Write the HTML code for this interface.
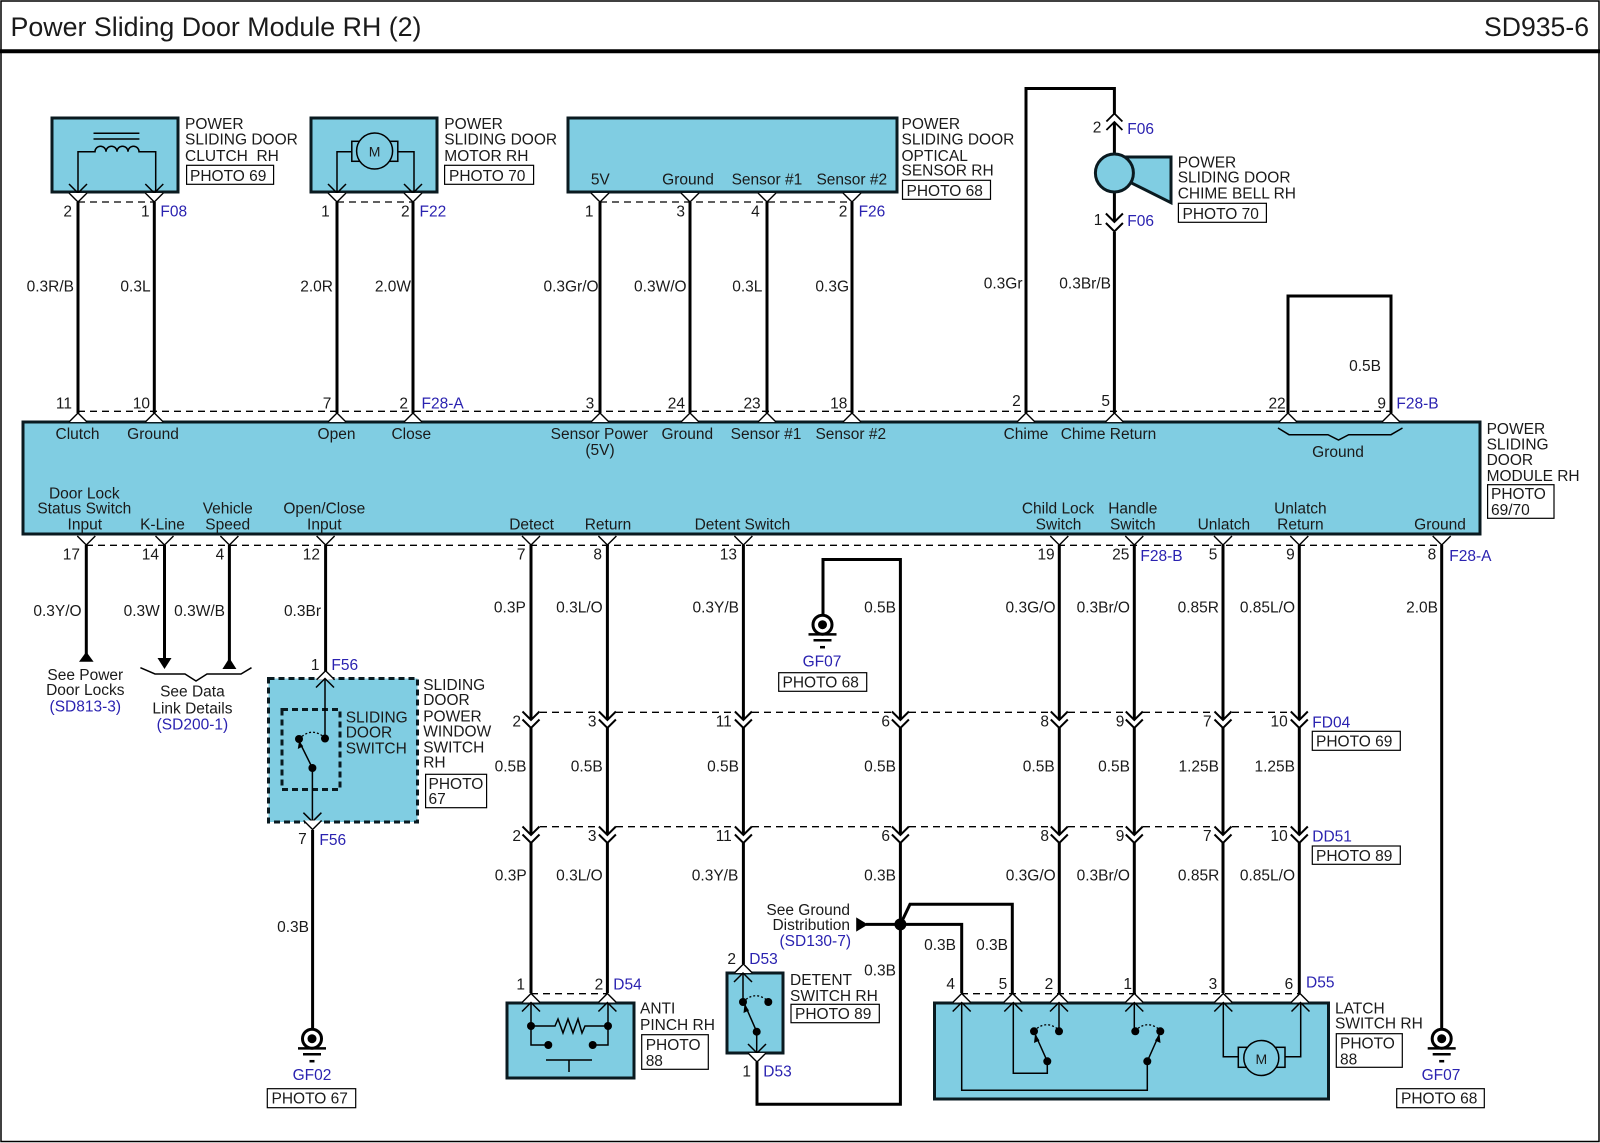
<!DOCTYPE html>
<html><head><meta charset="utf-8"><title>Power Sliding Door Module RH (2)</title>
<style>
html,body{margin:0;padding:0;background:#fff}
svg{display:block}
text{font-family:"Liberation Sans",sans-serif;font-size:15.5px;fill:#1a1a1a}
.b{fill:#2a22b0}
.w{fill:none;stroke:#000;stroke-width:3}
.t{fill:none;stroke:#000;stroke-width:1.5}
.d{fill:none;stroke:#000;stroke-width:1.3;stroke-dasharray:7 5}
.c{fill:#80cde2;stroke:#0a1a20;stroke-width:3}
.p{fill:#fff;stroke:#000;stroke-width:1.3}
.a{fill:none;stroke:#000;stroke-width:1.3;stroke-dasharray:2 2}
</style></head><body>
<svg xmlns="http://www.w3.org/2000/svg" width="1600" height="1143" viewBox="0 0 1600 1143">
<defs>
<path id="ov" d="M-9-9L0 0L9-9" fill="#fff" stroke="#000" stroke-width="1.4"/>
<path id="iv" d="M-9-9L0 0L9-9" fill="none" stroke="#000" stroke-width="1.5"/>
<path id="ou" d="M-9 9L0 0L9 9" fill="#fff" stroke="#000" stroke-width="1.4"/>
<path id="iu" d="M-9 9L0 0L9 9" fill="none" stroke="#000" stroke-width="1.5"/>
<path id="fv" d="M-8.500-8.500L0 0L8.500-8.500" fill="none" stroke="#000" stroke-width="2"/>
<path id="fu" d="M-8 8L0 0L8 8" fill="none" stroke="#000" stroke-width="1.800"/>
<g id="gnd"><circle r="9.500" fill="#fff" stroke="#000" stroke-width="3"/><circle r="4.500" fill="#000"/><path d="M-14 9.700H14M-9 15.500H9" stroke="#000" stroke-width="2.500"/><path d="M-2.500 22.500H2.500" stroke="#000" stroke-width="2.500"/></g>
<circle id="dot" r="4" fill="#000"/>
</defs>
<rect width="1600" height="1143" fill="#fff"/>
<rect x="1" y="1" width="1598" height="1140.500" fill="none" stroke="#000" stroke-width="1.500"/>
<path d="M0 51.300H1600" stroke="#000" stroke-width="4"/>
<text x="10.500" y="36" textLength="411" lengthAdjust="spacingAndGlyphs" style="font-size:26.800px">Power Sliding Door Module RH (2)</text>
<text x="1484" y="36" textLength="105" lengthAdjust="spacingAndGlyphs" style="font-size:26.600px">SD935-6</text>

<!-- component boxes -->
<rect class="c" x="52" y="118" width="126" height="74"/>
<rect class="c" x="311" y="118" width="126" height="74"/>
<rect class="c" x="568" y="118" width="329" height="74"/>
<rect class="c" x="23" y="422" width="1457" height="112"/>
<rect x="268.500" y="678.500" width="149" height="143.500" fill="#80cde2" stroke="#0a1a20" stroke-width="3" stroke-dasharray="6 4"/>
<rect x="282" y="709.500" width="58" height="80" fill="none" stroke="#0a1a20" stroke-width="3" stroke-dasharray="6 4"/>
<rect class="c" x="507" y="1003" width="127" height="75"/>
<rect class="c" x="727" y="973" width="56" height="80"/>
<rect class="c" x="934.500" y="1003" width="394" height="96"/>

<!-- thick wires -->
<path class="w" d="M78 202V413M154.300 202V413M337 202V413M413 202V413M600 202V413M690 202V413M767 202V413M852 202V413"/>
<path class="w" d="M1026 413V88.500H1114.400V113.500M1114.400 122V155M1114.400 190V221.500M1114.400 232V413M1288 413V296H1391V413"/>
<path class="w" d="M86.300 545V655M164.500 545V660M229.400 545V662M325.600 545V671"/>
<path class="w" d="M531 545V720M531 728V835M531 843V993M607.400 545V720M607.400 728V835M607.400 843V993M743.400 545V720M743.400 728V835M743.400 843V964"/>
<path class="w" d="M900.400 720V559.500H823V616M900.400 728V835M900.400 843V1104.300H757V1062"/>
<path class="w" d="M1059.300 545V720M1059.300 728V835M1059.300 843V993M1134.300 545V720M1134.300 728V835M1134.300 843V993M1223 545V720M1223 728V835M1223 843V993M1299.300 545V720M1299.300 728V835M1299.300 843V993M1441.700 545V1029"/>
<path class="w" d="M312.600 830V1029"/>
<path class="w" d="M866 924.400H961.700V993M900.400 924.400L910 904.300H1012.300V993"/>
<path d="M856.700 918.300V930.700L867 924.500Z" fill="#000" stroke="#000"/>
<circle cx="900.400" cy="924.400" r="6" fill="#000"/>
<path d="M86.300 651.700L79 661.700H93.600Z M157.500 658H171.500L164.500 669Z M229.400 658L222.400 669H236.400Z" fill="#000"/>
<path class="t" d="M140.400 667.700L155 674H185L196 681L207 674H241L251.500 667.700"/>

<!-- dashed connector lines -->
<path class="d" d="M78 202H154M337 202H413M600 202H852M78 411.300H1391M86 545.300H1441"/>
<path class="d" d="M540 712.300H598M616 712.300H734M752 712.300H891M909 712.300H1050M1068 712.300H1125M1143 712.300H1214M1232 712.300H1290"/>
<path class="d" d="M540 826.700H598M616 826.700H734M752 826.700H891M909 826.700H1050M1068 826.700H1125M1143 826.700H1214M1232 826.700H1290"/>
<path class="d" d="M531 993.700H607M961 993.700H1300"/>

<!-- top connectors -->
<use href="#iv" x="78" y="193"/><use href="#ov" x="78" y="202"/>
<use href="#iv" x="154.300" y="193"/><use href="#ov" x="154.300" y="202"/>
<use href="#iv" x="337" y="193"/><use href="#ov" x="337" y="202"/>
<use href="#iv" x="413" y="193"/><use href="#ov" x="413" y="202"/>
<use href="#ov" x="600" y="202"/><use href="#ov" x="690" y="202"/><use href="#ov" x="767" y="202"/><use href="#ov" x="852" y="202"/>
<use href="#ou" x="78" y="413"/><use href="#ou" x="154.300" y="413"/><use href="#ou" x="337" y="413"/><use href="#ou" x="413" y="413"/><use href="#ou" x="600" y="413"/><use href="#ou" x="690" y="413"/><use href="#ou" x="767" y="413"/><use href="#ou" x="852" y="413"/><use href="#ou" x="1026" y="413"/><use href="#ou" x="1114.400" y="413"/><use href="#ou" x="1288" y="413"/><use href="#ou" x="1391" y="413"/>
<!-- chime -->
<use href="#fu" x="1114.400" y="113.500"/><use href="#fu" x="1114.400" y="122"/>
<use href="#fv" x="1114.400" y="222"/><use href="#fv" x="1114.400" y="231.500"/>
<path class="c" d="M1125.600 157H1171V202.700L1131 182.700Z"/>
<circle class="c" cx="1114.400" cy="173" r="19"/>
<!-- bottom module connectors -->
<use href="#ov" x="86.300" y="545"/><use href="#ov" x="164.500" y="545"/><use href="#ov" x="229.400" y="545"/><use href="#ov" x="325.600" y="545"/><use href="#ov" x="531" y="545"/><use href="#ov" x="607.400" y="545"/><use href="#ov" x="743.400" y="545"/><use href="#ov" x="1059.300" y="545"/><use href="#ov" x="1134.300" y="545"/><use href="#ov" x="1223" y="545"/><use href="#ov" x="1299.300" y="545"/><use href="#ov" x="1441.700" y="545"/>
<!-- inline connectors -->
<use href="#fv" x="531" y="720"/><use href="#fv" x="531" y="728"/><use href="#fv" x="607.400" y="720"/><use href="#fv" x="607.400" y="728"/><use href="#fv" x="743.400" y="720"/><use href="#fv" x="743.400" y="728"/><use href="#fv" x="900.400" y="720"/><use href="#fv" x="900.400" y="728"/><use href="#fv" x="1059.300" y="720"/><use href="#fv" x="1059.300" y="728"/><use href="#fv" x="1134.300" y="720"/><use href="#fv" x="1134.300" y="728"/><use href="#fv" x="1223" y="720"/><use href="#fv" x="1223" y="728"/><use href="#fv" x="1299.300" y="720"/><use href="#fv" x="1299.300" y="728"/>
<use href="#fv" x="531" y="835"/><use href="#fv" x="531" y="843"/><use href="#fv" x="607.400" y="835"/><use href="#fv" x="607.400" y="843"/><use href="#fv" x="743.400" y="835"/><use href="#fv" x="743.400" y="843"/><use href="#fv" x="900.400" y="835"/><use href="#fv" x="900.400" y="843"/><use href="#fv" x="1059.300" y="835"/><use href="#fv" x="1059.300" y="843"/><use href="#fv" x="1134.300" y="835"/><use href="#fv" x="1134.300" y="843"/><use href="#fv" x="1223" y="835"/><use href="#fv" x="1223" y="843"/><use href="#fv" x="1299.300" y="835"/><use href="#fv" x="1299.300" y="843"/>

<!-- clutch symbol -->
<path class="t" d="M93.500 133.300H139.400M93.500 139H139.400"/>
<path class="t" d="M78 192V151.700H95a5.500 5.500 0 0 1 11 0a5.500 5.500 0 0 1 11 0a5.500 5.500 0 0 1 11 0a5.500 5.500 0 0 1 11 0H155.700V192"/>
<!-- motor symbol -->
<path class="t" d="M337 192V151.700H351.800M397.700 151.700H414V192"/>
<rect class="t" x="351.800" y="141.300" width="46" height="20"/>
<circle cx="374.600" cy="151" r="18" fill="#80cde2" stroke="#000" stroke-width="1.500"/>

<!-- window switch -->
<use href="#ou" x="325.600" y="670.700"/>
<use href="#iu" x="325" y="678.500"/>
<path class="t" d="M325 678.500V738M312.400 768V821.500"/>
<use href="#iv" x="312.400" y="821.700"/><use href="#ov" x="312.600" y="829.500"/>
<use href="#dot" x="299" y="739"/><use href="#dot" x="325" y="738.500"/><use href="#dot" x="312.400" y="768"/>
<path class="t" d="M312.400 768L299 741"/><path d="M299 741L297.800 749L303.200 746.300Z" fill="#000"/>
<path class="a" d="M299 739Q312 726 325 738"/>

<!-- anti pinch -->
<use href="#ou" x="531" y="993.500"/><use href="#ou" x="607.400" y="993.500"/>
<use href="#iu" x="531" y="1002.500"/><use href="#iu" x="607.400" y="1002.500"/>
<path class="t" d="M531 1003V1045H548M608 1003V1045H593"/>
<path class="t" d="M531 1026H555L558 1019L563 1033L568 1019L573 1033L578 1019L582 1033L585 1026H608"/>
<use href="#dot" x="531" y="1026"/><use href="#dot" x="608" y="1026"/><use href="#dot" x="548.300" y="1045"/><use href="#dot" x="592.700" y="1045"/>
<path class="t" d="M546 1060H592M569 1060V1072"/>

<!-- detent -->
<use href="#ou" x="743.400" y="964"/><use href="#iu" x="743" y="973"/>
<path class="t" d="M743 973V1002M756.700 1031.700V1053"/>
<use href="#dot" x="743" y="1002"/><use href="#dot" x="768.300" y="1002"/><use href="#dot" x="756.700" y="1031.700"/>
<path class="t" d="M756.700 1031.700L745 1005"/><path d="M744.500 1004L743.500 1013L749 1010.500Z" fill="#000"/>
<path class="a" d="M743 1002Q755 990 768 1001"/>
<use href="#iv" x="757" y="1053"/><use href="#ov" x="757" y="1062"/>

<!-- latch -->
<use href="#ou" x="961.700" y="993.500"/><use href="#ou" x="1012.600" y="993.500"/><use href="#ou" x="1059" y="993.500"/><use href="#ou" x="1134.300" y="993.500"/><use href="#ou" x="1223.300" y="993.500"/><use href="#ou" x="1300" y="993.500"/>
<use href="#iu" x="961.700" y="1002.500"/><use href="#iu" x="1013.300" y="1002.500"/><use href="#iu" x="1059" y="1002.500"/><use href="#iu" x="1134.300" y="1002.500"/><use href="#iu" x="1223.300" y="1002.500"/><use href="#iu" x="1300.500" y="1002.500"/>
<path class="t" d="M961.700 1003V1090.300H1147.300V1061.300M1013.300 1003V1073.300H1047.300V1061.300M1059 1003V1031M1134.300 1003V1031"/>
<use href="#dot" x="1034" y="1031.300"/><use href="#dot" x="1059" y="1031.300"/><use href="#dot" x="1047.300" y="1061.300"/><use href="#dot" x="1135.300" y="1031.300"/><use href="#dot" x="1160.300" y="1031.300"/><use href="#dot" x="1147.300" y="1061.300"/>
<path class="t" d="M1047.300 1061.300L1035.500 1035M1147.300 1061.300L1159 1035"/>
<path d="M1035 1034L1034 1043L1039.500 1040.500ZM1159.500 1034L1155 1040.500L1160.500 1043Z" fill="#000"/>
<path class="a" d="M1034 1031Q1046 1019 1059 1030M1135 1031Q1147 1019 1160 1030"/>
<path class="t" d="M1223.300 1003V1056.700H1238.300M1285 1056.700H1300.700V1003"/>
<rect class="t" x="1238.300" y="1047.300" width="46.700" height="20"/>
<circle cx="1261.300" cy="1058" r="17.500" fill="#80cde2" stroke="#000" stroke-width="1.500"/>

<!-- grounds -->
<use href="#gnd" x="312" y="1038.700"/>
<use href="#gnd" x="1441.700" y="1038.700"/>
<use href="#gnd" x="822.500" y="624.700"/>

<!-- photo boxes -->
<g class="t" style="fill:#fff;stroke-width:1.200">
<rect x="186.600" y="165.300" width="87" height="19"/>
<rect x="444.600" y="165.300" width="89" height="19"/>
<rect x="902.500" y="180.300" width="88" height="19"/>
<rect x="1178.400" y="203.300" width="88" height="19"/>
<rect x="1487.600" y="484.700" width="66.400" height="33.600"/>
<rect x="778.700" y="672.700" width="88" height="18.600"/>
<rect x="1312.300" y="731.300" width="88" height="19"/>
<rect x="1312.300" y="846" width="88" height="18.300"/>
<rect x="425.600" y="774.300" width="61" height="33.400"/>
<rect x="267.300" y="1088.700" width="88.400" height="19"/>
<rect x="641.700" y="1034.700" width="66.600" height="34.600"/>
<rect x="791" y="1004.300" width="88.300" height="18.400"/>
<rect x="1336.300" y="1033.700" width="66" height="33.600"/>
<rect x="1396.700" y="1088.700" width="87.600" height="19"/>
</g>
<path class="t" d="M1278 428L1289 434.700H1328L1338.500 440L1348.700 434.700H1391L1402.500 428"/>

<!-- left aligned labels -->
<text x="185" y="129">POWER</text><text x="185" y="144.700">SLIDING DOOR</text><text x="185" y="161">CLUTCH&#160; RH</text><text x="190" y="181">PHOTO 69</text>
<text x="444.300" y="129">POWER</text><text x="444.300" y="144.700">SLIDING DOOR</text><text x="444.300" y="161">MOTOR RH</text><text x="449" y="181">PHOTO 70</text>
<text x="901.500" y="129">POWER</text><text x="901.500" y="144.700">SLIDING DOOR</text><text x="901.500" y="161">OPTICAL</text><text x="901.500" y="175.700">SENSOR RH</text><text x="906.500" y="196">PHOTO 68</text>
<text x="1177.700" y="167.700">POWER</text><text x="1177.700" y="182.700">SLIDING DOOR</text><text x="1177.700" y="198.700">CHIME BELL RH</text><text x="1182.500" y="219">PHOTO 70</text>
<text x="1486.600" y="434">POWER</text><text x="1486.600" y="449.600">SLIDING</text><text x="1486.600" y="465">DOOR</text><text x="1486.600" y="481">MODULE RH</text><text x="1491" y="499">PHOTO</text><text x="1491" y="515">69/70</text>
<text x="345.700" y="722.300">SLIDING</text><text x="345.700" y="737.700">DOOR</text><text x="345.700" y="753.300">SWITCH</text>
<text x="423.200" y="690">SLIDING</text><text x="423.200" y="705">DOOR</text><text x="423.200" y="721.700">POWER</text><text x="423.200" y="736.700">WINDOW</text><text x="423.200" y="752.300">SWITCH</text><text x="423.200" y="767.700">RH</text><text x="428.500" y="789">PHOTO</text><text x="428.500" y="804">67</text>
<text x="640" y="1013.300">ANTI</text><text x="640" y="1030">PINCH RH</text><text x="645.700" y="1050">PHOTO</text><text x="645.700" y="1066">88</text>
<text x="790" y="985">DETENT</text><text x="790" y="1001">SWITCH RH</text><text x="795" y="1019">PHOTO 89</text>
<text x="1335" y="1013.300">LATCH</text><text x="1335" y="1028.700">SWITCH RH</text><text x="1340" y="1048.700">PHOTO</text><text x="1340" y="1064.700">88</text>
<text x="1316" y="746.700">PHOTO 69</text><text x="1316" y="861">PHOTO 89</text>
<text x="782.500" y="687.500">PHOTO 68</text><text x="271.500" y="1103.700">PHOTO 67</text><text x="1401" y="1103.700">PHOTO 68</text>

<!-- connector ids -->
<g class="b">
<text class="b" x="160.400" y="216.700">F08</text><text class="b" x="419.500" y="216.700">F22</text><text class="b" x="858.600" y="216.700">F26</text>
<text class="b" x="1127.300" y="134">F06</text><text class="b" x="1127.300" y="226">F06</text>
<text class="b" x="421.500" y="408.700">F28-A</text><text class="b" x="1396.400" y="408.700">F28-B</text>
<text class="b" x="1140.400" y="561">F28-B</text><text class="b" x="1449.300" y="561">F28-A</text>
<text class="b" x="331.400" y="670">F56</text><text class="b" x="319.400" y="845">F56</text>
<text class="b" x="1312.300" y="727.700">FD04</text><text class="b" x="1312.300" y="841.700">DD51</text>
<text class="b" x="613.300" y="989.300">D54</text><text class="b" x="749.300" y="964">D53</text><text class="b" x="763.300" y="1076.700">D53</text><text class="b" x="1306" y="987.700">D55</text>
</g>

<!-- centered labels -->
<g text-anchor="middle">
<text x="77.500" y="439">Clutch</text><text x="153" y="439">Ground</text><text x="336.500" y="439">Open</text><text x="411.300" y="439">Close</text><text x="599.300" y="439">Sensor Power</text><text x="600" y="455">(5V)</text><text x="687.300" y="439">Ground</text><text x="766" y="439">Sensor #1</text><text x="850.800" y="439">Sensor #2</text><text x="1026" y="439">Chime</text><text x="1108.500" y="439">Chime Return</text><text x="1338" y="457">Ground</text>
<text x="600.300" y="184.300">5V</text><text x="688" y="184.300">Ground</text><text x="766.900" y="184.300">Sensor #1</text><text x="851.800" y="184.300">Sensor #2</text>
<text x="84.300" y="498.300">Door Lock</text><text x="84.300" y="513.300">Status Switch</text><text x="84.800" y="529.300">Input</text><text x="162.500" y="529.300">K-Line</text><text x="227.700" y="513.300">Vehicle</text><text x="227.700" y="529.300">Speed</text><text x="324.300" y="513.300">Open/Close</text><text x="324.300" y="529.300">Input</text>
<text x="531.600" y="529.300">Detect</text><text x="608" y="529.300">Return</text><text x="742.400" y="529.300">Detent Switch</text>
<text x="1058" y="513.300">Child Lock</text><text x="1058.500" y="529.300">Switch</text><text x="1132.800" y="513.300">Handle</text><text x="1132.800" y="529.300">Switch</text><text x="1223.900" y="529.300">Unlatch</text><text x="1300.400" y="513.300">Unlatch</text><text x="1300.400" y="529.300">Return</text><text x="1440" y="529.300">Ground</text>
<text x="85.300" y="680">See Power</text><text x="85.300" y="695">Door Locks</text><text class="b" x="85.300" y="711.700">(SD813-3)</text>
<text x="192.400" y="696.700">See Data</text><text x="192.400" y="713.300">Link Details</text><text class="b" x="192.400" y="729.300">(SD200-1)</text>
<text class="b" x="312" y="1080">GF02</text><text class="b" x="1441" y="1080">GF07</text><text class="b" x="822" y="666.700">GF07</text>
<text x="374.600" y="156.700" style="font-size:14px">M</text><text x="1261.300" y="1064" style="font-size:14px">M</text>
</g>

<!-- right aligned labels -->
<g text-anchor="end">
<text x="74" y="291.700">0.3R/B</text><text x="150.600" y="291.700">0.3L</text><text x="333" y="291.700">2.0R</text><text x="411" y="291.700">2.0W</text><text x="598.600" y="291.700">0.3Gr/O</text><text x="686.600" y="291.700">0.3W/O</text><text x="762.400" y="291.700">0.3L</text><text x="849" y="291.700">0.3G</text><text x="1022.500" y="288.700">0.3Gr</text><text x="1111" y="288.700">0.3Br/B</text><text x="1381" y="371">0.5B</text>
<text x="72" y="216.700">2</text><text x="149.600" y="216.700">1</text><text x="329.700" y="216.700">1</text><text x="409.600" y="216.700">2</text><text x="593.500" y="216.700">1</text><text x="685" y="216.700">3</text><text x="759.700" y="216.700">4</text><text x="847.400" y="216.700">2</text>
<text x="72" y="408.300">11</text><text x="150" y="408.300">10</text><text x="331.400" y="408.300">7</text><text x="408" y="408.300">2</text><text x="594.200" y="408.300">3</text><text x="685" y="408.300">24</text><text x="760.700" y="408.300">23</text><text x="847.400" y="408.300">18</text><text x="1020.800" y="406">2</text><text x="1110" y="406">5</text><text x="1285.700" y="408.300">22</text><text x="1386" y="408.300">9</text>
<text x="1101.400" y="132.300">2</text><text x="1102.400" y="225">1</text>
<text x="80" y="559.300">17</text><text x="159" y="559.300">14</text><text x="224.300" y="559.300">4</text><text x="320" y="559.300">12</text><text x="525.500" y="559.300">7</text><text x="602" y="559.300">8</text><text x="737" y="559.300">13</text><text x="1054.700" y="559.300">19</text><text x="1129.400" y="559.300">25</text><text x="1217.400" y="559.300">5</text><text x="1294.700" y="559.300">9</text><text x="1436.300" y="559.300">8</text>
<text x="81.600" y="616">0.3Y/O</text><text x="159.800" y="616">0.3W</text><text x="225" y="616">0.3W/B</text><text x="321" y="616">0.3Br</text>
<text x="525.800" y="612.700">0.3P</text><text x="602.700" y="612.700">0.3L/O</text><text x="739" y="612.700">0.3Y/B</text><text x="896" y="612.700">0.5B</text><text x="1055.500" y="612.700">0.3G/O</text><text x="1130" y="612.700">0.3Br/O</text><text x="1219" y="612.700">0.85R</text><text x="1295" y="612.700">0.85L/O</text><text x="1438" y="612.700">2.0B</text>
<text x="521" y="726.700">2</text><text x="596.500" y="726.700">3</text><text x="731.800" y="726.700">11</text><text x="890" y="726.700">6</text><text x="1049" y="726.700">8</text><text x="1124.400" y="726.700">9</text><text x="1211.600" y="726.700">7</text><text x="1287.800" y="726.700">10</text>
<text x="526.500" y="771.700">0.5B</text><text x="602.700" y="771.700">0.5B</text><text x="739" y="771.700">0.5B</text><text x="896" y="771.700">0.5B</text><text x="1054.700" y="771.700">0.5B</text><text x="1130" y="771.700">0.5B</text><text x="1219" y="771.700">1.25B</text><text x="1295" y="771.700">1.25B</text>
<text x="521" y="841">2</text><text x="596.500" y="841">3</text><text x="731.800" y="841">11</text><text x="890" y="841">6</text><text x="1049" y="841">8</text><text x="1124.400" y="841">9</text><text x="1211.600" y="841">7</text><text x="1287.800" y="841">10</text>
<text x="526.700" y="880.700">0.3P</text><text x="602.700" y="880.700">0.3L/O</text><text x="738.300" y="880.700">0.3Y/B</text><text x="896" y="880.700">0.3B</text><text x="1055.700" y="880.700">0.3G/O</text><text x="1130" y="880.700">0.3Br/O</text><text x="1219.300" y="880.700">0.85R</text><text x="1295" y="880.700">0.85L/O</text>
<text x="309" y="932">0.3B</text><text x="306.700" y="844">7</text>
<text x="850" y="915">See Ground</text><text x="850" y="930">Distribution</text><text class="b" x="851" y="946">(SD130-7)</text>
<text x="896" y="975.700">0.3B</text><text x="956" y="950">0.3B</text><text x="1008" y="950">0.3B</text>
<text x="525" y="989.300">1</text><text x="603.300" y="989.300">2</text><text x="736" y="964">2</text><text x="751" y="1076.700">1</text>
<text x="955" y="989">4</text><text x="1007.300" y="989">5</text><text x="1053.300" y="989">2</text><text x="1132" y="989">1</text><text x="1217.300" y="989">3</text><text x="1293.300" y="989">6</text>
<text x="319.500" y="670">1</text>
</g>
</svg>
</body></html>
